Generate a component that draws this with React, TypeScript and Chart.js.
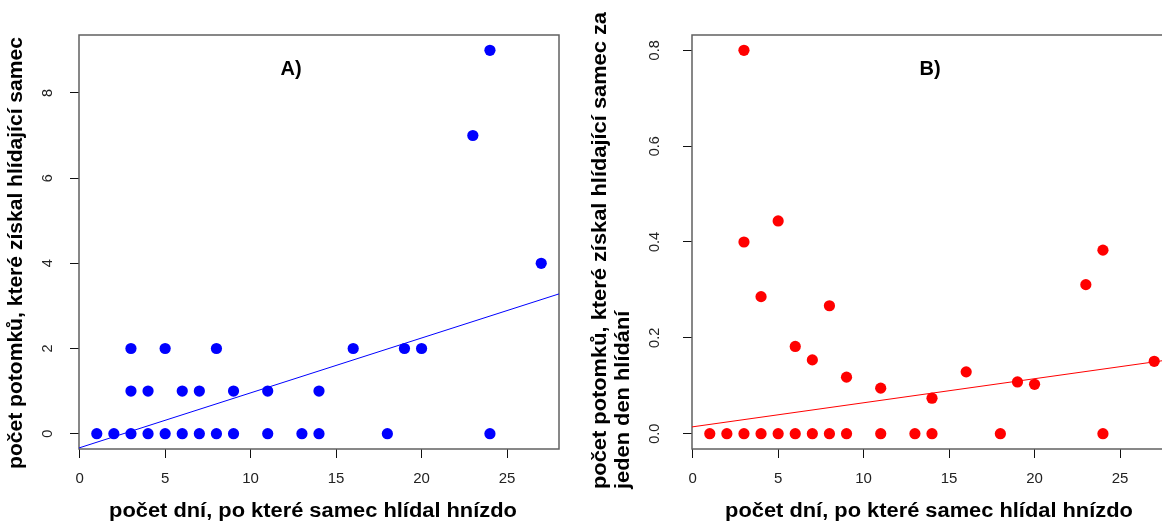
import React, { useEffect, useRef } from "react";
import { Chart, registerables } from "chart.js";

Chart.register(...registerables);
Chart.defaults.font.family = '"Liberation Sans", Arial, Helvetica, sans-serif';

// ---- data ----
const days = [1, 2, 3, 3, 3, 4, 4, 5, 5, 6, 6, 7, 7, 8, 8, 9, 9, 11, 11, 13, 14, 14, 16, 18, 19, 20, 23, 24, 24, 27];
const offspring = [0, 0, 0, 1, 2, 0, 1, 0, 2, 0, 1, 0, 1, 0, 2, 0, 1, 0, 1, 0, 0, 1, 2, 0, 2, 2, 7, 0, 9, 4];
const offspringPerDay = [0, 0, 0, 0.4, 0.8, 0, 0.286, 0, 0.444, 0, 0.182, 0, 0.154, 0, 0.267, 0, 0.118, 0, 0.095, 0, 0, 0.074, 0.129, 0, 0.108, 0.103, 0.311, 0, 0.383, 0.151];
const xTicks = [0, 5, 10, 15, 20, 25];
const yTicksA = [0, 2, 4, 6, 8];
const yTicksB = [0, 0.2, 0.4, 0.6, 0.8];
const fitA = { intercept: -0.33, slope: 0.1288 };
const fitB = { intercept: 0.0143, slope: 0.00502 };
const xTitle = "počet dní, po které samec hlídal hnízdo";
const yTitleA = ["počet potomků, které získal hlídající samec"];
const yTitleB = ["počet potomků, které získal hlídající samec za", "jeden den hlídání"];

const X_MIN = -0.04;
const X_MAX = 28.04;
const TITLE_FONT = 'bold 19.5px "Liberation Sans", Arial, sans-serif';

type Panel = {
  ys: number[];
  yTicks: number[];
  fit: { intercept: number; slope: number };
  color: string;
  yMin: number;
  yMax: number;
  decimals: number;
  label: string;
  labelX: number;
  yScaleWidth: number;
  canvasLeft: number;
  canvasWidth: number;
  padRight: number;
  xTitleX: number;
  xStretch: number;
  yTitle: string[];
  yTitleBaselines: number[];
  yTitleY: number;
  yTitleAlign: CanvasTextAlign;
  yStretch: number;
};

const panels: Panel[] = [
  {
    ys: offspring, yTicks: yTicksA, fit: fitA, color: "#0000ff", yMin: -0.36, yMax: 9.36, decimals: 0,
    label: "A)", labelX: 291, yScaleWidth: 79, canvasLeft: 0, canvasWidth: 580, padRight: 21,
    xTitleX: 313, xStretch: 1.12, yTitle: yTitleA, yTitleBaselines: [22], yTitleY: 253, yTitleAlign: "center", yStretch: 1.08,
  },
  {
    ys: offspringPerDay, yTicks: yTicksB, fit: fitB, color: "#ff0000", yMin: -0.032, yMax: 0.832, decimals: 1,
    label: "B)", labelX: 350, yScaleWidth: 112, canvasLeft: 580, canvasWidth: 600, padRight: 8,
    xTitleX: 349, xStretch: 1.12, yTitle: yTitleB, yTitleBaselines: [26, 49], yTitleY: 489, yTitleAlign: "left", yStretch: 1.12,
  },
];

function makeChart(canvas: HTMLCanvasElement, p: Panel) {
  const decor = {
    id: "decor",
    beforeDatasetsDraw(chart: any) {
      const { ctx, chartArea: a } = chart;
      ctx.save();
      ctx.strokeStyle = "#606060";
      ctx.lineWidth = 1.5;
      ctx.strokeRect(a.left, a.top, a.right - a.left, a.bottom - a.top);
      ctx.restore();
    },
    afterDraw(chart: any) {
      const ctx: CanvasRenderingContext2D = chart.ctx;
      ctx.save();
      ctx.fillStyle = "#000";
      ctx.font = TITLE_FONT;
      ctx.textBaseline = "alphabetic";
      // x title
      ctx.save();
      ctx.translate(p.xTitleX, 517);
      ctx.scale(p.xStretch, 1);
      ctx.textAlign = "center";
      ctx.fillText(xTitle, 0, 0);
      ctx.restore();
      // y title
      p.yTitle.forEach((line, i) => {
        ctx.save();
        ctx.translate(p.yTitleBaselines[i], p.yTitleY);
        ctx.rotate(-Math.PI / 2);
        ctx.scale(p.yStretch, 1);
        ctx.textAlign = p.yTitleAlign;
        ctx.fillText(line, 0, 0);
        ctx.restore();
      });
      // panel label
      ctx.font = 'bold 20px "Liberation Sans", Arial, sans-serif';
      ctx.textAlign = "center";
      ctx.textBaseline = "middle";
      ctx.fillText(p.label, p.labelX, 69);
      ctx.restore();
    },
  };

  const gridOpts = {
    display: true,
    drawOnChartArea: false,
    drawTicks: true,
    tickLength: 9,
    color: "#111",
    lineWidth: 1,
  };

  return new Chart(canvas, {
    type: "scatter",
    data: {
      datasets: [
        {
          type: "line",
          data: [
            { x: X_MIN, y: p.fit.intercept + p.fit.slope * X_MIN },
            { x: X_MAX, y: p.fit.intercept + p.fit.slope * X_MAX },
          ],
          borderColor: p.color,
          borderWidth: 1,
          pointRadius: 0,
          fill: false,
          order: 0,
        } as any,
        {
          type: "scatter",
          data: days.map((d, i) => ({ x: d, y: p.ys[i] })),
          pointRadius: 5.6,
          pointBackgroundColor: p.color,
          pointBorderColor: p.color,
          pointBorderWidth: 0,
          order: 1,
        } as any,
      ],
    },
    options: {
      responsive: false,
      animation: false,
      layout: { padding: { top: 35, right: p.padRight, left: 0, bottom: 0 } },
      plugins: { legend: { display: false }, tooltip: { enabled: false }, title: { display: false } },
      scales: {
        x: {
          type: "linear",
          min: X_MIN,
          max: X_MAX,
          afterBuildTicks: (s: any) => { s.ticks = xTicks.map((v) => ({ value: v })); },
          afterFit: (s: any) => { s.height = 72; },
          grid: gridOpts,
          border: { display: false },
          ticks: {
            font: { size: 15 },
            color: "#222",
            padding: 12,
            minRotation: 0,
            maxRotation: 0,
            autoSkip: false,
            callback: (v: any) => String(v),
          },
        },
        y: {
          type: "linear",
          min: p.yMin,
          max: p.yMax,
          afterBuildTicks: (s: any) => { s.ticks = p.yTicks.map((v) => ({ value: v })); },
          afterFit: (s: any) => { s.width = p.yScaleWidth; },
          grid: gridOpts,
          border: { display: false },
          ticks: {
            font: { size: 14.5 },
            color: "#222",
            padding: 18,
            minRotation: 90,
            maxRotation: 90,
            crossAlign: "center",
            autoSkip: false,
            callback: (v: any) => Number(v).toFixed(p.decimals),
          },
        },
      },
    } as any,
    plugins: [decor],
  });
}

function PanelCanvas({ p }: { p: Panel }) {
  const ref = useRef<HTMLCanvasElement | null>(null);
  useEffect(() => {
    if (!ref.current) return;
    const chart = makeChart(ref.current, p);
    return () => chart.destroy();
  }, [p]);
  return (
    <canvas
      ref={ref}
      width={p.canvasWidth}
      height={521}
      style={{ position: "absolute", left: p.canvasLeft, top: 0, width: p.canvasWidth, height: 521 }}
    />
  );
}

export default function App() {
  return (
    <div
      style={{
        position: "fixed",
        left: 0,
        top: 0,
        width: 1162,
        height: 521,
        overflow: "hidden",
        background: "#fff",
      }}
    >
      {panels.map((p) => (
        <PanelCanvas key={p.label} p={p} />
      ))}
    </div>
  );
}
